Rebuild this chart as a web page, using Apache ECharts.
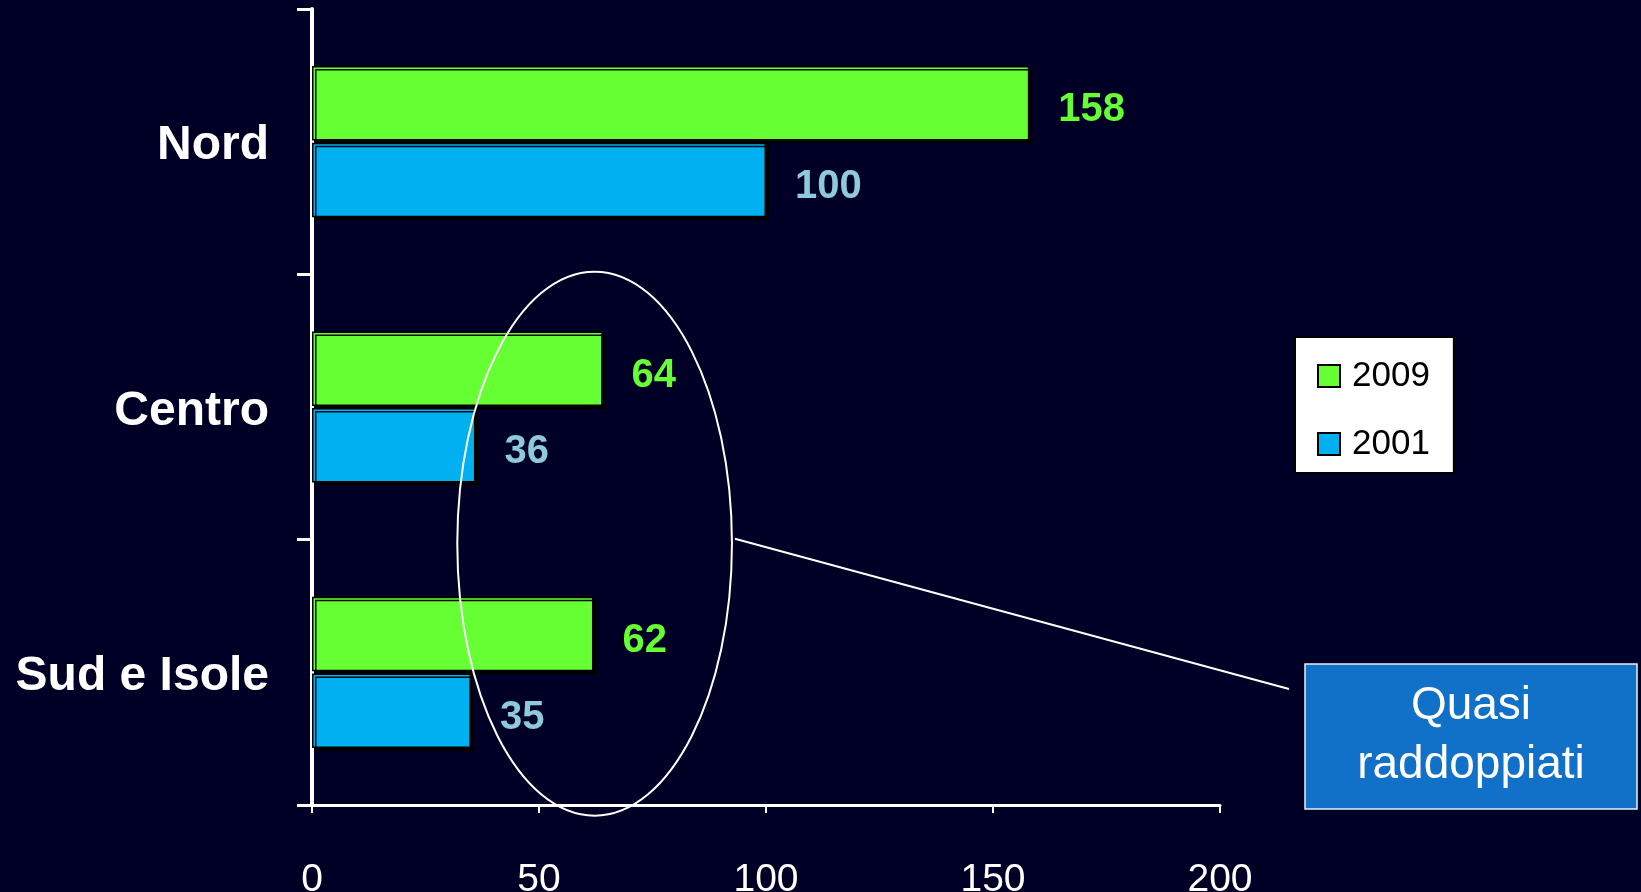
<!DOCTYPE html>
<html>
<head>
<meta charset="utf-8">
<script src="https://cdn.jsdelivr.net/npm/echarts@6/dist/echarts.min.js"></script>
<style>
  html, body { margin: 0; padding: 0; background: #000026; }
  #chart { width: 1641px; height: 892px; }
</style>
</head>
<body>
<div id="chart"></div>
<script>
// Regions (top to bottom) and values per year
const regions = ['Nord', 'Centro', 'Sud e Isole'];
const values2009 = [158, 64, 62];
const values2001 = [100, 36, 35];
const seriesNames = ['2009', '2001'];
const xTickValues = [0, 50, 100, 150, 200];
const calloutLines = ['Quasi', 'raddoppiati'];
// highlighted value range (x units) circled by the ellipse
const highlightRange = [32, 92.5];

const FONT = '"Liberation Sans", Arial, sans-serif';
const GREEN = '#66ff33';
const BLUE = '#00b0f0';

const chart = echarts.init(document.getElementById('chart'), null, { renderer: 'canvas' });

const barStyle = (color) => ({
  color: color,
  borderColor: '#000000',
  borderWidth: 1.5,
  shadowColor: 'rgba(0,0,0,0.95)',
  shadowOffsetX: 3,
  shadowOffsetY: 3,
  shadowBlur: 0
});

const valueLabel = (color) => ({
  show: true, position: 'right', distance: 29, offset: [0, 7],
  color: color, fontSize: 40, fontWeight: 'bold', fontFamily: FONT
});

chart.setOption({
  backgroundColor: '#000026',
  animation: false,
  grid: {
    left: 312, right: 421, top: 9, bottom: 87,
    containLabel: false,
    outerBoundsMode: 'none'
  },
  legend: {
    left: 1295, top: 337,
    orient: 'vertical',
    data: seriesNames,
    backgroundColor: '#ffffff',
    borderColor: '#000000',
    borderWidth: 2,
    padding: [16, 24, 6, 22],
    itemGap: 22,
    itemWidth: 22,
    itemHeight: 22,
    icon: 'rect',
    itemStyle: { borderColor: '#000000', borderWidth: 2 },
    textStyle: { color: '#000000', fontSize: 35, fontFamily: FONT, lineHeight: 40, padding: [6, 0, 0, 7] },
    selectedMode: false
  },
  xAxis: {
    type: 'value',
    min: xTickValues[0],
    max: xTickValues[xTickValues.length - 1],
    interval: xTickValues[1] - xTickValues[0],
    splitLine: { show: false },
    axisLine: { show: true, lineStyle: { color: '#ffffff', width: 3 } },
    axisTick: { show: true, length: 8, lineStyle: { color: '#ffffff', width: 2 } },
    axisLabel: { color: '#ffffff', fontSize: 39, fontFamily: FONT, margin: 56 }
  },
  yAxis: {
    type: 'category',
    data: regions,
    inverse: true,
    axisLine: { show: true, lineStyle: { color: '#ffffff', width: 4 } },
    axisTick: { show: true, length: 15, lineStyle: { color: '#ffffff', width: 3 } },
    axisLabel: {
      margin: 43,
      formatter: '{c|{value}}',
      rich: {
        c: {
          color: '#ffffff', fontSize: 48, fontWeight: 'bold', fontFamily: FONT,
          padding: [9, 0, 0, 0]
        }
      }
    }
  },
  series: [
    {
      name: seriesNames[0],
      type: 'bar',
      data: values2009,
      barCategoryGap: '43%',
      barGap: '3%',
      itemStyle: barStyle(GREEN),
      label: valueLabel(GREEN)
    },
    {
      name: seriesNames[1],
      type: 'bar',
      data: values2001,
      barCategoryGap: '43%',
      barGap: '3%',
      itemStyle: barStyle(BLUE),
      label: valueLabel('#8fcadc')
    }
  ]
});

// Annotation: ellipse around the Centro / Sud e Isole values, linked to a callout box
const xLeft = chart.convertToPixel({ xAxisIndex: 0 }, highlightRange[0]);
const xRight = chart.convertToPixel({ xAxisIndex: 0 }, highlightRange[1]);
const yCentro = chart.convertToPixel({ yAxisIndex: 0 }, regions[1]);
const ySud = chart.convertToPixel({ yAxisIndex: 0 }, regions[2]);
const cx = (xLeft + xRight) / 2;
const rx = (xRight - xLeft) / 2;
const cy = (yCentro + ySud) / 2 + 4;
const ry = 272;

const box = { x: 1305, y: 664, w: 332, h: 145 };

chart.setOption({
  graphic: [
    {
      type: 'ellipse',
      shape: { cx: cx, cy: cy, rx: rx, ry: ry },
      style: { fill: 'none', stroke: '#ffffff', lineWidth: 2 },
      z: 100
    },
    {
      type: 'line',
      shape: { x1: cx + rx + 3, y1: cy - 5, x2: box.x - 16, y2: box.y + 25 },
      style: { stroke: '#ffffff', lineWidth: 2 },
      z: 100
    },
    {
      type: 'rect',
      shape: { x: box.x, y: box.y, width: box.w, height: box.h },
      style: { fill: '#1170c8', stroke: '#e8eef6', lineWidth: 1.5 },
      z: 100
    },
    {
      type: 'text',
      x: box.x + box.w / 2,
      y: box.y + box.h / 2 - 1,
      style: {
        text: calloutLines.join('\n'),
        fill: '#ffffff',
        font: '46px ' + FONT,
        lineHeight: 59,
        align: 'center',
        verticalAlign: 'middle'
      },
      z: 101
    }
  ]
});
</script>
</body>
</html>
